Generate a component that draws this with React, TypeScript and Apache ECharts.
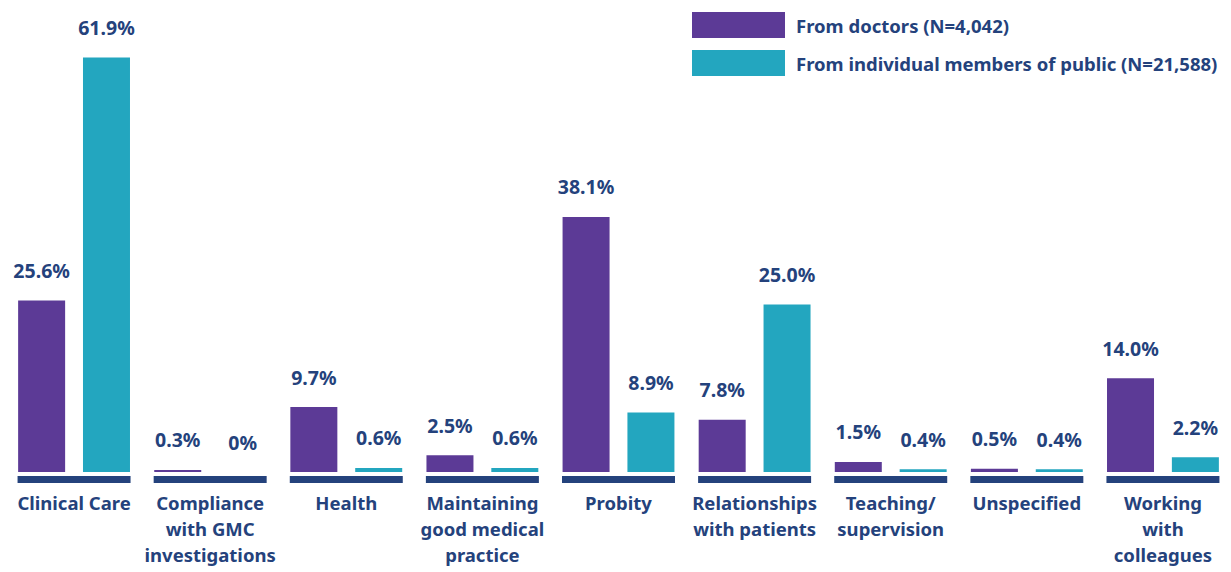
import React, { useEffect, useRef } from "react";
import * as echarts from "echarts";

const categories = [
  "Clinical Care",
  "Compliance\nwith GMC\ninvestigations",
  "Health",
  "Maintaining\ngood medical\npractice",
  "Probity",
  "Relationships\nwith patients",
  "Teaching/\nsupervision",
  "Unspecified",
  "Working\nwith\ncolleagues",
];
const fromDoctors = [25.6, 0.3, 9.7, 2.5, 38.1, 7.8, 1.5, 0.5, 14.0];
const fromPublic = [61.9, 0, 0.6, 0.6, 8.9, 25.0, 0.4, 0.4, 2.2];
const seriesNames = ["From doctors (N=4,042)", "From individual members of public (N=21,588)"];

const PURPLE = "#5c3a96";
const TEAL = "#23a6bf";
const NAVY = "#24427c";
const FONT = "'Noto Sans'";

export default function App() {
  const ref = useRef<HTMLDivElement>(null);
  useEffect(() => {
    if (!ref.current) return;
    const chart = echarts.init(ref.current, null, { renderer: "svg" });
    const fmt = (p: any) => (p.value === 0 ? "0%" : Number(p.value).toFixed(1) + "%");
    const label = {
      show: true,
      position: "top",
      distance: 20,
      color: NAVY,
      fontFamily: FONT,
      fontWeight: "bold",
      fontSize: 19.5,
      formatter: fmt,
    };
    chart.setOption({
      animation: false,
      grid: { left: 6, width: 1228, top: 0, height: 472 },
      legend: {
        data: seriesNames,
        orient: "vertical",
        left: 687,
        top: 7,
        itemWidth: 93,
        itemHeight: 26,
        itemGap: 12,
        icon: "rect",
        textStyle: {
          color: NAVY,
          fontFamily: FONT,
          fontWeight: "bold",
          fontSize: 18.5,
          padding: [0, 0, 8, 6],
        },
      },
      xAxis: {
        type: "category",
        data: categories,
        axisLine: { show: false },
        axisTick: { show: false },
        axisLabel: {
          margin: 17,
          color: NAVY,
          fontFamily: FONT,
          fontWeight: "bold",
          fontSize: 18.5,
          lineHeight: 26,
          interval: 0,
          verticalAlign: "top",
        },
      },
      yAxis: { type: "value", min: 0, max: 70.5, show: false, splitLine: { show: false } },
      series: [
        {
          name: seriesNames[0],
          type: "bar",
          data: fromDoctors,
          barWidth: 47,
          barGap: "38%",
          itemStyle: { color: PURPLE },
          label,
        },
        {
          name: seriesNames[1],
          type: "bar",
          data: fromPublic,
          barWidth: 47,
          itemStyle: { color: TEAL },
          label,
        },
        {
          name: "base",
          type: "custom",
          clip: false,
          silent: true,
          data: categories.map((_, i) => [i]),
          encode: { x: 0 },
          renderItem: (params: any, api: any) => {
            const pt = api.coord([api.value(0), 0]);
            const w = 113;
            return {
              type: "rect",
              shape: { x: pt[0] - w / 2, y: pt[1] + 4, width: w, height: 7 },
              style: { fill: NAVY },
            };
          },
        },
      ],
    });
    return () => chart.dispose();
  }, []);
  return (
    <div
      ref={ref}
      style={{ position: "absolute", left: 0, top: 0, width: 1231, height: 572, background: "#fff" }}
    />
  );
}
